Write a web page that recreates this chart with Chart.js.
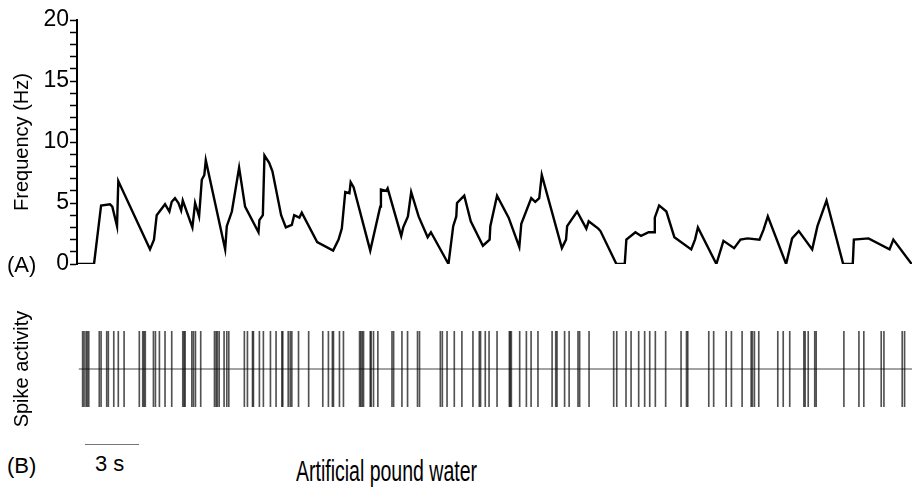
<!DOCTYPE html>
<html>
<head>
<meta charset="utf-8">
<script src="https://cdn.jsdelivr.net/npm/chart.js@4/dist/chart.umd.min.js"></script>
<style>
  body { margin: 0; background: #fff; }
  #wrap { position: relative; width: 912px; height: 487px; overflow: hidden; font-family: "Liberation Sans", Arial, sans-serif; color: #000; }
  canvas { position: absolute; left: 0; }
  .lbl { position: absolute; white-space: nowrap; line-height: 1; }
  #scaleBar { position: absolute; height: 1px; background: #777; }
</style>
</head>
<body>
<div id="wrap">
  <canvas id="freqChart" width="912" height="290" style="top:0"></canvas>
  <canvas id="spikeChart" width="912" height="150" style="top:290px"></canvas>
  <div class="lbl" style="left:7px; top:254px; font-size:22px;">(A)</div>
  <div class="lbl" style="left:7px; top:455px; font-size:22px;">(B)</div>
  <div id="scaleBar" style="left:85px; top:444px; width:54px;"></div>
  <div class="lbl" style="left:95px; top:453px; font-size:22px;">3 s</div>
  <div class="lbl" id="title" style="left:296px; top:456px; font-size:30px; transform-origin:0 0; transform:scaleX(0.65);">Artificial pound water</div>
</div>
<script>
// time axis in seconds
const tMax = 46.1;
const yTicks = [0, 5, 10, 15, 20];

// instantaneous frequency trace (A)
const freqTime = [0, 0.94, 1.33, 1.82, 1.95, 2.21, 2.28, 4.03, 4.25, 4.40, 4.86, 5.10, 5.23, 5.41, 5.60, 5.75, 5.84,
  6.37, 6.52, 6.74, 6.89, 7.03, 7.11, 8.18, 8.27, 8.55, 8.95, 9.28, 10.02, 10.07, 10.26, 10.35, 10.61, 10.79,
  11.27, 11.53, 11.86, 11.99, 12.28, 12.41, 13.26, 14.14, 14.44, 14.62, 14.81, 15.04, 15.11, 15.27, 16.19,
  16.74, 16.78, 17.07, 17.15, 17.90, 18.01, 18.27, 18.45, 18.86, 19.36, 19.54, 20.51, 20.77, 20.94, 20.98,
  21.38, 21.74, 22.41, 22.78, 22.82, 23.19, 23.83, 24.42, 24.53, 25.08, 25.30, 25.52, 25.66, 26.77, 27.00,
  27.06, 27.61, 28.12, 28.25, 28.78, 28.90, 29.78, 30.24, 30.33, 30.83, 31.14, 31.56, 31.88, 31.90, 32.14,
  32.54, 32.98, 33.91, 34.12, 34.28, 35.30, 35.69, 36.28, 36.63, 37.02, 37.68, 37.90, 38.14, 39.15, 39.48,
  39.85, 40.59, 40.88, 41.38, 42.30, 42.83, 42.89, 43.70, 44.86, 45.07, 46.08];
const freqHz = [0, 0, 4.8, 4.9, 4.7, 3.1, 6.8, 1.2, 2.0, 4.0, 4.9, 4.3, 5.1, 5.4, 5.0, 4.4, 5.2,
  3.0, 5.0, 3.9, 6.9, 7.3, 8.5, 1.2, 3.1, 4.3, 7.9, 4.7, 2.6, 3.6, 4.0, 8.9, 8.3, 7.6,
  4.0, 3.0, 3.2, 4.0, 3.8, 4.2, 1.8, 1.1, 2.0, 2.9, 5.9, 5.8, 6.7, 6.3, 1.1,
  4.7, 6.1, 6.0, 6.2, 2.3, 3.0, 3.9, 5.9, 3.9, 2.2, 2.6, 0, 3.1, 3.9, 5.0,
  5.6, 3.5, 1.5, 2.0, 3.1, 5.6, 3.8, 1.4, 3.3, 5.4, 5.1, 5.4, 7.3, 1.3, 2.0,
  3.1, 4.3, 2.9, 3.5, 2.9, 2.7, 0, 0, 2.0, 2.6, 2.3, 2.6, 2.6, 3.8, 4.8,
  4.3, 2.2, 1.2, 2.0, 3.0, 0, 1.9, 1.3, 2.0, 2.1, 2.0, 2.8, 3.9, 0, 2.1,
  2.7, 1.2, 3.1, 5.2, 0, 0, 2.0, 2.1, 1.2, 2.0, 0];

// spike raster (B)
const spikeTimes = [0.31, 0.39, 0.50, 0.57, 0.65, 1.23, 1.33, 1.64, 1.73, 2.03, 2.28, 2.60, 3.44, 3.63, 3.70, 3.77,
  4.22, 4.33, 4.55, 4.86, 5.23, 5.84, 5.91, 5.97, 6.34, 6.43, 6.54, 6.83, 7.59, 7.68, 7.75, 7.85, 8.12, 8.27,
  8.38, 9.24, 9.41, 9.69, 9.74, 10.07, 10.29, 10.68, 10.99, 11.31, 11.36, 11.66, 11.77, 11.86, 12.23, 12.79,
  13.57, 13.88, 14.10, 14.16, 14.49, 14.71, 15.60, 15.67, 15.75, 15.82, 16.19, 16.24, 16.37, 16.61, 17.39,
  17.48, 17.94, 18.25, 18.80, 18.91, 20.06, 20.17, 20.43, 20.83, 21.25, 21.86, 22.21, 22.28, 22.54, 22.75,
  23.19, 23.87, 23.92, 23.98, 24.44, 24.81, 25.07, 25.45, 26.23, 26.43, 26.50, 26.92, 27.17, 27.66, 27.75,
  28.27, 29.63, 29.80, 30.31, 30.59, 31.01, 31.34, 31.62, 31.93, 32.50, 33.35, 33.65, 33.72, 34.88, 35.15,
  35.84, 36.13, 36.72, 37.22, 37.29, 37.40, 37.64, 38.69, 38.99, 39.35, 40.13, 40.20, 40.37, 40.73, 40.81,
  42.34, 43.17, 43.44, 44.40, 44.55, 45.56, 45.69];
const scaleBarSeconds = 3;

const FONT = "'Liberation Sans', Arial, sans-serif";
Chart.defaults.font.family = FONT;
Chart.defaults.color = "#000";

const freqChart = new Chart(document.getElementById("freqChart"), {
  type: "line",
  data: {
    datasets: [{
      data: freqTime.map((t, i) => ({ x: t, y: freqHz[i] })),
      borderColor: "#000",
      borderWidth: 2.4,
      pointRadius: 0,
      tension: 0
    }]
  },
  options: {
    responsive: false,
    animation: false,
    devicePixelRatio: 1,
    layout: { padding: { top: 20, bottom: 26, left: 0, right: 0 } },
    plugins: { legend: { display: false }, tooltip: { enabled: false } },
    scales: {
      x: { type: "linear", min: 0, max: tMax, display: false },
      y: {
        min: 0, max: 20,
        afterFit: s => { s.width = 77; },
        ticks: {
          stepSize: 1,
          autoSkip: false,
          padding: 1,
          font: { size: 23 },
          callback: v => yTicks.includes(v) ? v : ""
        },
        grid: { drawOnChartArea: false, drawTicks: true, tickLength: 7, tickColor: "#000", tickWidth: 1.5 },
        border: { display: true, color: "#000", width: 2 },
        title: { display: true, text: "Frequency (Hz)", font: { size: 20 }, padding: { top: 10, bottom: 0 } }
      }
    }
  }
});

const spikeChart = new Chart(document.getElementById("spikeChart"), {
  type: "bar",
  data: {
    datasets: [{
      type: "bar",
      data: spikeTimes.map(t => ({ x: t, y: [-1, 1] })),
      backgroundColor: "rgba(0,0,0,0.68)",
      borderWidth: 0,
      barThickness: 1
    }, {
      type: "line",
      data: [{ x: 0.1, y: 0 }, { x: tMax, y: 0 }],
      borderColor: "#444",
      borderWidth: 1,
      pointRadius: 0
    }]
  },
  options: {
    responsive: false,
    animation: false,
    devicePixelRatio: 1,
    layout: { padding: { top: 41, bottom: 33, left: 0, right: 0 } },
    plugins: { legend: { display: false }, tooltip: { enabled: false } },
    scales: {
      x: { type: "linear", min: 0, max: tMax, offset: false, display: false },
      y: {
        min: -1, max: 1,
        afterFit: s => { s.width = 77; },
        ticks: { display: false },
        grid: { display: false },
        border: { display: false },
        title: { display: true, text: "Spike activity", font: { size: 20 }, padding: { top: 10, bottom: 0 } }
      }
    }
  }
});

// scale bar length from the time scale
const xs = spikeChart.scales.x;
document.getElementById("scaleBar").style.width =
  (xs.getPixelForValue(scaleBarSeconds) - xs.getPixelForValue(0)) + "px";
</script>
</body>
</html>
